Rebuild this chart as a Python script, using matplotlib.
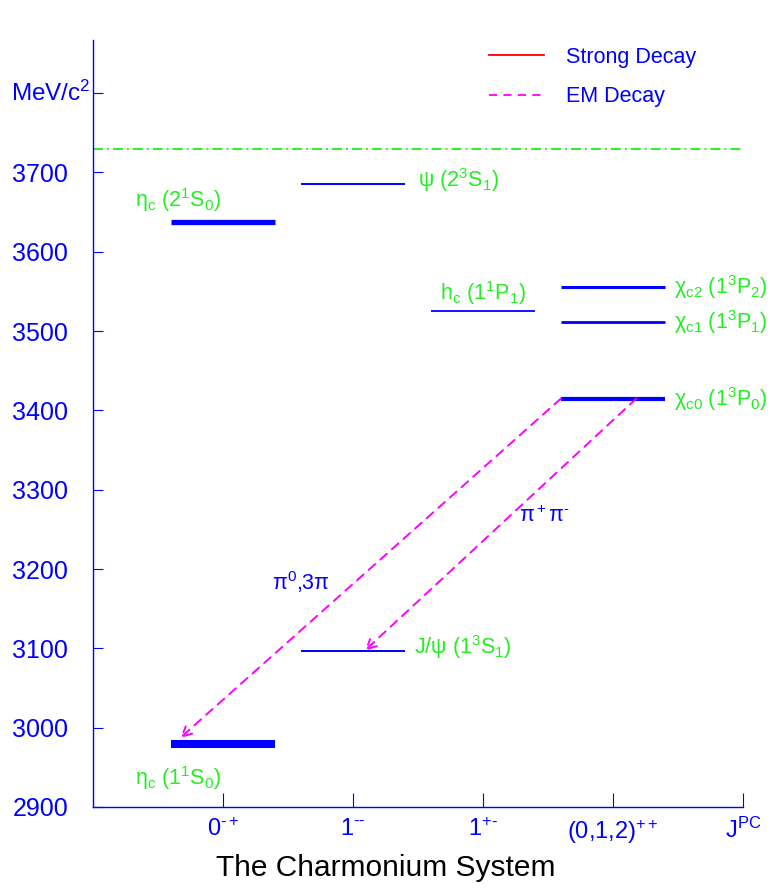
import matplotlib
matplotlib.use("Agg")
import matplotlib.pyplot as plt
from matplotlib.lines import Line2D

plt.rcParams['font.family'] = ['Liberation Sans', 'DejaVu Sans']
plt.rcParams['mathtext.fontset'] = 'custom'
plt.rcParams['mathtext.rm'] = 'Liberation Sans'
plt.rcParams['mathtext.it'] = 'Liberation Sans'
plt.rcParams['mathtext.bf'] = 'Liberation Sans'

H = "\u2010"  # short hyphen for superscripts

# ---------------- data ----------------
jpc_labels = ["0$^{" + H + "+}$", "1$^{" + H + H + "}$", "1$^{+" + H + "}$",
              "(0,1,2)$^{++}$", "J$^{\\mathrm{PC}}$"]
jpc_pos = [1, 2, 3, 4, 5]

state_names = [r"$\mathrm{\eta_c\ (1^1S_0)}$", r"$\mathrm{J/\psi\ (1^3S_1)}$",
               r"$\mathrm{\chi_{c0}\ (1^3P_0)}$", r"$\mathrm{\chi_{c1}\ (1^3P_1)}$",
               r"$\mathrm{h_c\ (1^1P_1)}$", r"$\mathrm{\chi_{c2}\ (1^3P_2)}$",
               r"$\mathrm{\eta_c\ (2^1S_0)}$", r"$\mathrm{\psi\ (2^3S_1)}$"]
state_col = [1, 2, 4, 4, 3, 4, 1, 2]
state_mass = [2980, 3097, 3415, 3511, 3525, 3556, 3638, 3686]

dd_threshold = 3729

# EM transitions: (from x, from mass) -> (to x, to mass)
em_from_x = [3.6, 4.18]
em_from_m = [3415, 3415]
em_to_x = [0.67, 2.09]
em_to_m = [2987, 3097]
em_labels = [r"$\mathrm{\pi^0}$,3$\mathrm{\pi}$", r"$\mathrm{\pi^+\pi^{" + H + "}}$"]

y_ticks = [2900, 3000, 3100, 3200, 3300, 3400, 3500, 3600, 3700, 3800]

# ---------------- styles ----------------
BLUE = '#0000ff'
GREEN = '#22ee22'
LGREEN = '#33f033'
MAG = '#ff00ff'
state_lw = [5.8, 1.4, 3.0, 2.0, 1.3, 2.2, 3.8, 1.4]
half_w = 0.4

fig = plt.figure(figsize=(7.71, 8.90), dpi=100)
ax = fig.add_axes([93/771, 1-807/890, 650/771, 767/890])
ax.set_xlim(0, 5)
ax.set_ylim(2900, 3867)

for c, m, lw in zip(state_col, state_mass, state_lw):
    ax.plot([c - half_w, c + half_w], [m, m], color=BLUE, lw=lw, solid_capstyle='butt')

# threshold line
ax.plot([0, 5], [dd_threshold, dd_threshold], color=LGREEN, lw=1.5,
        linestyle=(0, (4.8, 1.9, 0.96, 1.9)))

# EM decays
for fx, fm, tx, tm in zip(em_from_x, em_from_m, em_to_x, em_to_m):
    ax.annotate("", xy=(tx, tm), xytext=(fx, fm),
                arrowprops=dict(arrowstyle='->,head_length=0.7,head_width=0.35',
                                color=MAG, lw=1.4, linestyle=(0, (4.5, 3.5)),
                                shrinkA=0, shrinkB=0))

FS = 15.5
# state labels
ax.text(0.32, 3665, state_names[6], color=GREEN, fontsize=FS, ha='left', va='center')
ax.text(2.5, 3690, state_names[7], color=GREEN, fontsize=FS, ha='left', va='center')
ax.text(3.0, 3531, state_names[4], color=GREEN, fontsize=FS, ha='center', va='bottom')
ax.text(4.47, 3556, state_names[5], color=GREEN, fontsize=FS, ha='left', va='center')
ax.text(4.47, 3511, state_names[3], color=GREEN, fontsize=FS, ha='left', va='center')
ax.text(4.47, 3414, state_names[2], color=GREEN, fontsize=FS, ha='left', va='center')
ax.text(2.47, 3102, state_names[1], color=GREEN, fontsize=FS, ha='left', va='center')
ax.text(0.32, 2937, state_names[0], color=GREEN, fontsize=FS, ha='left', va='center')

ax.text(1.38, 3184, em_labels[0], color=BLUE, fontsize=FS, ha='left', va='center')
ax.text(3.28, 3266, em_labels[1], color=BLUE, fontsize=FS, ha='left', va='center')

# legend
handles = [Line2D([], [], color='red', lw=1.3),
           Line2D([], [], color=MAG, lw=1.3, linestyle=(0, (4.5, 3.5)))]
leg = ax.legend(handles, ["Strong Decay", "EM Decay"], loc='upper left',
                bbox_to_anchor=(0.593, 1.005), frameon=False, fontsize=15.5,
                handlelength=2.55, handletextpad=1.0, labelspacing=0.85,
                borderpad=0.0, labelcolor=BLUE)

# axes styling
for s in ['top', 'right']:
    ax.spines[s].set_visible(False)
for s in ['left', 'bottom']:
    ax.spines[s].set_color(BLUE)
    ax.spines[s].set_linewidth(1.0)

ax.set_yticks(y_ticks)
ax.set_yticklabels([str(t) for t in y_ticks[:-1]] + [""])
ax.set_xticks(jpc_pos)
ax.set_xticklabels(jpc_labels)
ax.tick_params(axis='y', direction='in', length=7, color=BLUE, labelcolor=BLUE,
               labelsize=18, pad=18)
ax.tick_params(axis='x', direction='in', length=10, color=BLUE, labelcolor=BLUE,
               labelsize=17, pad=8)
ax.annotate(r"MeV/c$^2$", xy=(0, y_ticks[-1]), xycoords=('axes fraction', 'data'),
            xytext=(-2, 0), textcoords='offset points', ha='right', va='center',
            color=BLUE, fontsize=17.5)

fig.text(0.5, 1 - 868/890, "The Charmonium System", ha='center', va='center',
         fontsize=21.5, color='black')

fig.savefig("out.png", dpi=100)
